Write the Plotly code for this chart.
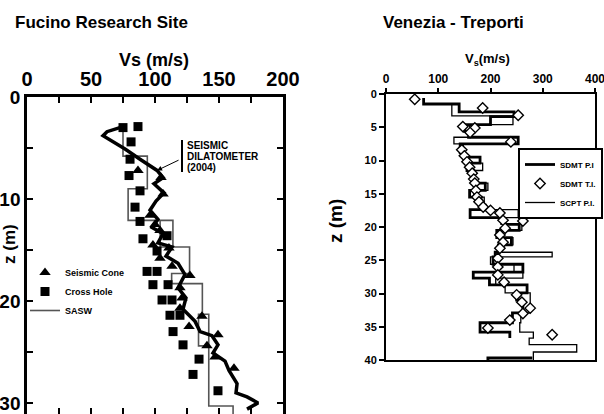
import plotly.graph_objects as go

W, H = 604, 414
FONT = "Liberation Sans, Arial, sans-serif"

# ---------------- Fucino Research Site ----------------
# Seismic cone (SCPT) shear-wave velocities
cone_vs = [86.7, 104.7, 106.3, 96.1, 100.0, 103.9, 98.4, 110.9, 103.9, 113.3,
           127.3, 119.5, 121.1, 119.5, 136.7, 126.6, 149.2, 140.6, 146.9, 161.7]
cone_z = [7.2, 7.9, 9.5, 11.6, 12.5, 13.1, 14.5, 14.8, 15.8, 16.6,
          17.5, 18.7, 19.7, 20.7, 21.5, 22.5, 23.3, 24.4, 25.5, 26.6]

# Cross-hole measurements
cross_vs = [75.0, 86.7, 81.3, 80.5, 79.7, 88.3, 84.4, 88.3, 90.6, 109.4, 101.6, 93.8,
            101.6, 98.4, 110.2, 105.5, 113.3, 111.7, 119.5, 114.1, 121.9, 134.4, 129.7, 149.2]
cross_z = [3.0, 2.9, 4.4, 6.1, 7.7, 9.2, 10.8, 12.2, 13.9, 13.6, 15.1, 17.1,
           17.1, 18.4, 18.4, 19.9, 19.9, 21.4, 21.4, 23.0, 24.3, 25.7, 27.2, 28.8]

# Seismic dilatometer profile (2004)
sdmt_f_vs = [75.0, 62.5, 59.4, 66.4, 76.6, 88.3, 96.1, 101.6, 106.3, 99.2, 107.0, 100.8,
             96.1, 102.3, 97.7, 106.3, 102.3, 113.3, 108.6, 118.0, 123.4, 118.0, 124.2,
             121.9, 131.3, 135.2, 144.5, 149.2, 145.3, 154.7, 157.8, 164.1, 163.3, 171.9,
             180.5, 171.9]
sdmt_f_z = [2.9, 3.4, 3.8, 4.3, 5.1, 6.1, 6.7, 7.2, 7.9, 8.5, 9.4, 10.2,
            11.1, 12.0, 12.8, 13.4, 14.3, 14.7, 15.6, 16.3, 17.4, 18.7, 19.7,
            20.8, 22.0, 23.0, 23.4, 24.3, 25.1, 25.9, 26.8, 28.1, 29.0, 29.4,
            30.0, 30.6]

# SASW layered profile (layer tops, velocities, base)
sasw_top = [2.8, 5.8, 9.0, 12.1, 14.7, 17.3, 18.3, 21.3, 30.3]
sasw_vs = [75, 94, 79, 114, 127, 113, 137, 142, 161]
sasw_base = 31.5
# alternative SASW branches
sasw_alt_vs = [104, 104, 114, None, 137, 134, 134, 142]
sasw_alt_z = [12.1, 14.7, 14.7, None, 21.3, 21.3, 24.4, 24.4]

fucino_x_ticks = list(range(0, 201, 25))
fucino_x_text = [str(v) if v % 50 == 0 else "" for v in fucino_x_ticks]
fucino_z_ticks = list(range(0, 31, 5))
fucino_z_text = [str(v) if v % 10 == 0 else "" for v in fucino_z_ticks]

# ---------------- Venezia - Treporti ----------------
# SDMT pseudo-interval layers
pi_top = [0.6, 1.5, 2.7, 3.4, 4.6, 5.6, 6.5, 7.5, 8.8, 9.5, 10.4, 11.5, 12.5, 13.4,
          14.5, 15.5, 16.7, 17.4, 18.6, 19.6, 20.5, 21.6, 22.7, 23.8, 24.5, 25.6,
          26.8, 27.7, 28.7, 29.9, 31.0, 32.9, 34.4, 35.8]
pi_vs = [72, 140, 245, 200, 150, 158, 253, 142, 150, 180, 155, 168, 170, 190,
         160, 182, 190, 161, 225, 255, 212, 240, 215, 209, 205, 262,
         167, 198, 270, 250, 262, 242, 180, 237]
pi_base = 36.7
pi_tail_vs = [195, 195, 280]
pi_tail_z = [40.0, 39.7, 39.7]

# SDMT true-interval points
ti_vs = [55, 185, 253, 147, 170, 161, 239, 145, 150, 155, 160, 165, 168, 170, 172,
         174, 178, 186, 200, 218, 224, 262, 228, 218, 224, 218, 214, 214, 214, 226,
         250, 260, 276, 262, 237, 195, 318]
ti_z = [0.8, 2.1, 3.2, 4.9, 5.1, 5.8, 7.2, 8.4, 9.3, 10.2, 11.0, 11.9, 12.8, 13.4, 14.5,
        15.5, 16.2, 17.0, 17.5, 17.9, 19.0, 19.1, 20.2, 21.2, 22.3, 23.2, 24.7, 26.0, 27.2, 28.3,
        30.2, 31.3, 32.2, 33.0, 34.0, 35.2, 36.2]

# SCPT pseudo-interval layers
scpt_top = [1.5, 3.3, 4.6, 6.5, 7.5, 9.5, 10.4, 11.5, 12.5, 13.4, 14.5, 15.5, 16.7,
            17.4, 18.6, 19.6, 20.5, 21.6, 22.7, 23.8, 24.5, 25.6, 26.8, 27.7, 28.7,
            29.9, 32.9, 34.4, 35.8, 36.7, 37.7, 38.8]
scpt_vs = [126, 243, 160, 130, 148, 160, 185, 165, 172, 195, 168, 188, 192,
           253, 220, 260, 218, 243, 222, 318, 200, 245, 262, 210, 228,
           276, 258, 256, 282, 274, 365, 282]
scpt_base = 40.0

venezia_x_ticks = [0, 100, 200, 300, 400]
venezia_z_ticks = list(range(0, 41, 5))


def step_profile(tops, vs, base):
    """Expand layer tops/velocities into a stepped (Vs, z) polyline."""
    xs, ys = [], []
    bottoms = tops[1:] + [base]
    for t, b, v in zip(tops, bottoms, vs):
        xs += [v, v]
        ys += [t, b]
    return xs, ys


def px(x):
    return x / W


def py(y):
    return 1 - y / H


fig = go.Figure()

# ---- left panel traces ----
sx, sz = step_profile(sasw_top, sasw_vs, sasw_base)
fig.add_trace(go.Scatter(x=sx, y=sz, mode="lines", name="SASW",
                         line=dict(color="#555555", width=1.6),
                         xaxis="x", yaxis="y", legend="legend", legendrank=3))
fig.add_trace(go.Scatter(x=sasw_alt_vs, y=sasw_alt_z, mode="lines", showlegend=False,
                         line=dict(color="#555555", width=1.6), connectgaps=False,
                         xaxis="x", yaxis="y"))
fig.add_trace(go.Scatter(x=cross_vs, y=cross_z, mode="markers", name="Cross Hole",
                         marker=dict(symbol="square", size=9, color="black"),
                         xaxis="x", yaxis="y", legend="legend", legendrank=2))
fig.add_trace(go.Scatter(x=cone_vs, y=cone_z, mode="markers", name="Seismic Cone",
                         marker=dict(symbol="triangle-up", size=10, color="black"),
                         xaxis="x", yaxis="y", legend="legend", legendrank=1))
fig.add_trace(go.Scatter(x=sdmt_f_vs, y=sdmt_f_z, mode="lines", showlegend=False,
                         line=dict(color="black", width=3.5),
                         xaxis="x", yaxis="y"))

# ---- right panel traces ----
cx, cz = step_profile(scpt_top, scpt_vs, scpt_base)
fig.add_trace(go.Scatter(x=cx, y=cz, mode="lines", name="SCPT P.I.",
                         line=dict(color="black", width=1.3),
                         xaxis="x2", yaxis="y2", legend="legend2", legendrank=3))
px_, pz_ = step_profile(pi_top, pi_vs, pi_base)
fig.add_trace(go.Scatter(x=px_ + [None] + pi_tail_vs, y=pz_ + [None] + pi_tail_z,
                         mode="lines", name="SDMT P.I",
                         line=dict(color="black", width=2.8), connectgaps=False,
                         xaxis="x2", yaxis="y2", legend="legend2", legendrank=1))
fig.add_trace(go.Scatter(x=ti_vs, y=ti_z, mode="markers", name="SDMT T.I.",
                         marker=dict(symbol="diamond", size=8, color="white",
                                     line=dict(color="black", width=1.4)),
                         xaxis="x2", yaxis="y2", legend="legend2", legendrank=2))

axis_common = dict(showgrid=False, zeroline=False, showline=True, linecolor="black",
                   automargin=False, ticklabeloverflow="allow")

fig.update_layout(
    width=W, height=H,
    margin=dict(l=0, r=0, t=0, b=0, autoexpand=False),
    paper_bgcolor="white", plot_bgcolor="white",
    font=dict(family=FONT, color="black"),
    xaxis=dict(**axis_common, domain=[px(27), px(283)], range=[0, 200], side="top",
               anchor="y", linewidth=2.5, mirror="ticks",
               tickmode="array", tickvals=fucino_x_ticks, ticktext=fucino_x_text,
               ticks="inside", ticklen=6, tickwidth=2, tickcolor="black",
               tickfont=dict(size=20, weight="bold", family=FONT)),
    yaxis=dict(**axis_common, domain=[0, py(97)], range=[31.08, 0], anchor="x",
               linewidth=2.5, mirror="ticks",
               tickmode="array", tickvals=fucino_z_ticks, ticktext=fucino_z_text,
               ticks="inside", ticklen=6, tickwidth=2, tickcolor="black",
               tickfont=dict(size=19, weight="bold", family=FONT)),
    xaxis2=dict(**axis_common, domain=[px(386), px(595)], range=[0, 400], side="top",
                anchor="y2", linewidth=2, mirror=True,
                tickmode="array", tickvals=venezia_x_ticks,
                ticks="outside", ticklen=4, tickwidth=1.5, tickcolor="black",
                tickfont=dict(size=12, weight="bold", family=FONT)),
    yaxis2=dict(**axis_common, domain=[py(360), py(94)], range=[40, 0], anchor="x2",
                linewidth=2, mirror=True,
                tickmode="array", tickvals=venezia_z_ticks,
                ticks="outside", ticklen=5, tickwidth=1.5, tickcolor="black",
                tickfont=dict(size=11, weight="bold", family=FONT)),
    legend=dict(x=px(25), y=py(258), xanchor="left", yanchor="top",
                bgcolor="rgba(0,0,0,0)", borderwidth=0, itemwidth=30,
                font=dict(size=9, weight="bold", family=FONT), tracegroupgap=0),
    legend2=dict(x=px(518), y=py(148), xanchor="left", yanchor="top",
                 bgcolor="white", bordercolor="black", borderwidth=2, itemwidth=30,
                 font=dict(size=8, weight="bold", family=FONT), tracegroupgap=0),
    showlegend=True,
)

ann = []


def text_ann(x, y, text, size, xanchor="center", angle=0):
    ann.append(dict(x=px(x), y=py(y), xref="paper", yref="paper", text=text,
                    showarrow=False, xanchor=xanchor, yanchor="middle", textangle=angle,
                    font=dict(size=size, weight="bold", family=FONT, color="black")))


text_ann(13, 22, "Fucino Research Site", 17, xanchor="left")
text_ann(154, 60, "Vs (m/s)", 18)
text_ann(10, 244, "z (m)", 17, angle=-90)
text_ann(185, 145, "SEISMIC", 10, xanchor="left")
text_ann(185, 156, "DILATOMETER", 10, xanchor="left")
text_ann(185, 167, "(2004)", 10, xanchor="left")

text_ann(453, 22, "Venezia - Treporti", 17)
text_ann(487, 60, "V<sub>s</sub>(m/s)", 13)
text_ann(335, 221, "z (m)", 19, angle=-90)

# arrow pointing at the dilatometer profile
ann.append(dict(x=101.6, y=7.2, xref="x", yref="y", ax=23, ay=-11,
                text="", showarrow=True, arrowhead=2, arrowsize=1, arrowwidth=1,
                arrowcolor="black"))

fig.update_layout(annotations=ann)
fig.add_shape(type="line", xref="paper", yref="paper",
              x0=px(182), x1=px(182), y0=py(140), y1=py(172),
              line=dict(color="black", width=2))

fig.write_html("out.html")
